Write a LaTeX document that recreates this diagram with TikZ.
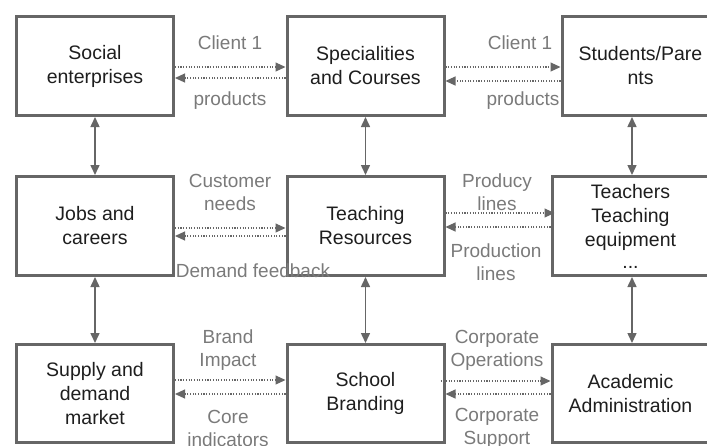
\documentclass[tikz,border=0pt]{standalone}
\usepackage{fontspec}
\setmainfont{Liberation Sans}
\usetikzlibrary{arrows.meta,calc}
\definecolor{edge}{HTML}{666666}
\definecolor{lbl}{HTML}{7A7A7A}
\definecolor{ink}{HTML}{1E1E1E}
\begin{document}
\begin{tikzpicture}[x=1pt,y=-1pt,
  box/.style={draw=edge, line width=3pt, fill=white, minimum width=157pt,
    minimum height=99pt, inner sep=0pt, align=center, text=ink,
    font=\fontsize{19.5}{24}\selectfont},
  link/.style={draw=edge, line width=1.5pt,
    {Triangle[length=10pt,width=9pt]}-{Triangle[length=10pt,width=9pt]}},
  flow/.style={draw=edge, line width=1.1pt, dash pattern=on 1.1pt off 1.6pt,
    -{Triangle[length=10pt,width=9pt]}},
  tag/.style={text=lbl, align=center, font=\fontsize{19}{23}\selectfont,
    inner sep=0pt}]
\useasboundingbox (0,0) rectangle (707,445);
\clip (0,0) rectangle (707,445);

% top row
\node[box] (A1) at (95,66) {Social\\enterprises};
\node[box] (A2) at (365.5,66) {Specialities\\and Courses};
\node[box] (A3) at (640.5,66) {Students/Pare\\nts};
% middle row
\node[box] (B1) at (95,226) {Jobs and\\careers};
\node[box] (B2) at (365.5,226) {Teaching\\Resources};
\node[box, minimum height=99pt] (B3) at (630.5,226) {Teachers\\Teaching\\equipment\\[-2pt]...};
% bottom row
\node[box, minimum height=98pt] (C1) at (95,393.5) {Supply and\\demand\\market};
\node[box, minimum height=98pt] (C2) at (365.5,393.5) {School\\Branding};
\node[box, minimum height=98pt] (C3) at (630.5,393.5) {Academic\\Administration};

% vertical two-way links
\draw[link] (A1.south) -- (B1.north);
\draw[link] (A2.south) -- (B2.north);
\draw[link] (A3.south -| 632,0) -- (B3.north -| 632,0);
\draw[link] (B1.south) -- (C1.north);
\draw[link] (B2.south) -- (C2.north);
\draw[link] (B3.south -| 632,0) -- (C3.north -| 632,0);

% horizontal dotted exchanges
\draw[flow] ($(A1.east)+(0,1)$) -- ($(A2.west)+(0,1)$);
\draw[flow] ($(A2.west)+(0,12)$) -- ($(A1.east)+(0,12)$);
\draw[flow] ($(A2.east)+(0,1)$) -- ($(A3.west)+(0,1)$);
\draw[flow] ($(A3.west)+(0,15)$) -- ($(A2.east)+(0,15)$);

\draw[flow] ($(B1.east)+(0,2)$) -- ($(B2.west)+(0,2)$);
\draw[flow] ($(B2.west)+(0,10)$) -- ($(B1.east)+(0,10)$);
\draw[flow, shorten >=-4pt] ($(B2.east)+(0,-13)$) -- ($(B3.west)+(0,-13)$);
\draw[flow] ($(B3.west)+(0,1)$) -- ($(B2.east)+(0,1)$);

\draw[flow] ($(C1.east)+(0,-13.5)$) -- ($(C2.west)+(0,-13.5)$);
\draw[flow] ($(C2.west)+(0,0.5)$) -- ($(C1.east)+(0,0.5)$);
\draw[flow, shorten <=-5pt] ($(C2.east)+(0,-12.5)$) -- ($(C3.west)+(0,-12.5)$);
\draw[flow] ($(C3.west)+(0,0.5)$) -- ($(C2.east)+(0,0.5)$);

% exchange labels
\node[tag] (t1) at (230,43) {Client 1};
\node[tag] (t2) at (230,101) {products};
\node[tag] (t3) at (520,43) {Client 1};
\node[tag] (t4) at (523,101) {products};
\node[tag] (t5) at (230,192.5) {Customer\\needs};
\node[tag] (t6) at (253,271) {Demand feedback};
\node[tag] (t7) at (497,192.5) {Producy\\lines};
\node[tag] (t8) at (496,262) {Production\\lines};
\node[tag] (t9) at (228,350.5) {Brand\\Impact};
\node[tag] (t10) at (228,428.5) {Core\\indicators};
\node[tag] (t11) at (497,350.5) {Corporate\\Operations};
\node[tag] (t12) at (497,428.5) {Corporate\\Support};
\end{tikzpicture}
\end{document}
